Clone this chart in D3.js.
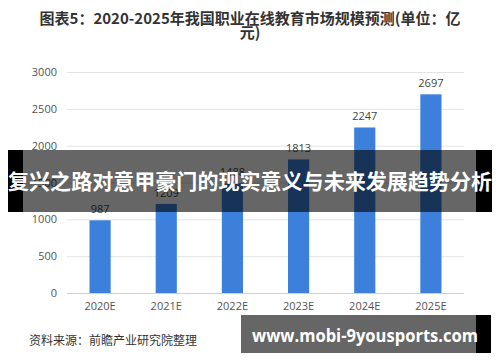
<!DOCTYPE html>
<html>
<head>
<meta charset="utf-8">
<script src="https://cdn.jsdelivr.net/npm/d3@7"></script>
<style>
  body { margin: 0; background: #fff; }
  svg { display: block; }
</style>
</head>
<body>
<svg id="drawing_region"></svg>
<script>
const years = ["2020E", "2021E", "2022E", "2023E", "2024E", "2025E"];
const values = [987, 1209, 1488, 1813, 2247, 2697];
const yticks = [0, 500, 1000, 1500, 2000, 2500, 3000];
const titleLines = ["图表5：2020-2025年我国职业在线教育市场规模预测(单位：亿", "元)"];
const sourceText = "资料来源：前瞻产业研究院整理";
const bannerText = "复兴之路对意甲豪门的现实意义与未来发展趋势分析";
const siteText = "www.mobi-9yousports.com";

const data = years.map((y, i) => ({ label: y, value: values[i] }));

const width = 500, height = 362;
const cjk = "'Noto Sans CJK SC', 'Noto Sans', sans-serif";

const svg = d3.select("#drawing_region")
    .attr("width", width)
    .attr("height", height);

svg.append("rect")
    .attr("width", width).attr("height", height)
    .attr("fill", "#fff");

// title
svg.append("g").selectAll("text")
    .data(titleLines)
    .join("text")
    .attr("x", 250)
    .attr("y", (d, i) => 24 + i * 14)
    .attr("text-anchor", "middle")
    .style("font-family", cjk)
    .style("font-size", "15px")
    .style("font-weight", "bold")
    .style("fill", "#333")
    .text(d => d);

const xscale = d3.scaleBand()
    .domain(years)
    .range([67, 464])
    .paddingInner(0.68)
    .paddingOuter(0.34);

const yscale = d3.scaleLinear()
    .domain([0, 3000])
    .range([293, 72]);

// gridlines + y labels
const yaxis = d3.axisLeft(yscale)
    .tickValues(yticks)
    .tickFormat(d3.format("d"))
    .tickSize(-(464 - 67))
    .tickPadding(10);

const yg = svg.append("g")
    .attr("transform", "translate(67,0)")
    .call(yaxis);
yg.select(".domain").remove();
yg.selectAll(".tick line")
    .attr("stroke", d => d === 0 ? "#d0d0d0" : "#e4e4e4");
yg.selectAll(".tick text")
    .style("font-family", "'Open Sans', sans-serif")
    .style("font-size", "11px")
    .style("fill", "#555");

// x labels
const xaxis = d3.axisBottom(xscale).tickSize(0).tickPadding(9);
const xg = svg.append("g")
    .attr("transform", "translate(0,293)")
    .call(xaxis);
xg.select(".domain").remove();
xg.selectAll(".tick text")
    .style("font-family", "'Open Sans', sans-serif")
    .style("font-size", "11px")
    .style("fill", "#555");

// bars
svg.append("g").selectAll("rect")
    .data(data)
    .join("rect")
    .attr("x", d => xscale(d.label))
    .attr("y", d => yscale(d.value))
    .attr("width", xscale.bandwidth())
    .attr("height", d => yscale(0) - yscale(d.value))
    .attr("fill", "#3d80dc");

svg.append("g").selectAll("text")
    .data(data)
    .join("text")
    .attr("x", d => xscale(d.label) + xscale.bandwidth() / 2)
    .attr("y", d => yscale(d.value) - 7)
    .attr("text-anchor", "middle")
    .style("font-family", "'Open Sans', sans-serif")
    .style("font-size", "11px")
    .style("fill", "#444")
    .text(d => d.value);

// source
svg.append("text")
    .attr("x", 29)
    .attr("y", 345)
    .style("font-family", cjk)
    .style("font-size", "12px")
    .style("fill", "#333")
    .text(sourceText);

// banner overlay
svg.append("rect")
    .attr("x", 8).attr("y", 150).attr("width", 15).attr("height", 62)
    .attr("fill", "#000");
svg.append("rect")
    .attr("x", 476).attr("y", 150).attr("width", 16).attr("height", 62)
    .attr("fill", "#000");
svg.append("rect")
    .attr("x", 23).attr("y", 150).attr("width", 453).attr("height", 62)
    .attr("fill", "#000").attr("fill-opacity", 0.6);

svg.append("text")
    .attr("x", 250)
    .attr("y", 189)
    .attr("text-anchor", "middle")
    .attr("textLength", 484)
    .attr("lengthAdjust", "spacingAndGlyphs")
    .style("font-family", cjk)
    .style("font-size", "21px")
    .style("font-weight", "bold")
    .style("fill", "#fff")
    .text(bannerText);

// site box
svg.append("rect")
    .attr("x", 241).attr("y", 315).attr("width", 250).attr("height", 38)
    .attr("fill", "#000");
svg.append("rect")
    .attr("x", 241).attr("y", 315).attr("width", 235).attr("height", 38)
    .attr("fill", "#666");
svg.append("text")
    .attr("x", 252)
    .attr("y", 342)
    .attr("textLength", 226)
    .attr("lengthAdjust", "spacingAndGlyphs")
    .style("font-family", "'Open Sans', sans-serif")
    .style("font-size", "17px")
    .style("font-weight", "bold")
    .style("fill", "#fff")
    .text(siteText);
</script>
</body>
</html>
